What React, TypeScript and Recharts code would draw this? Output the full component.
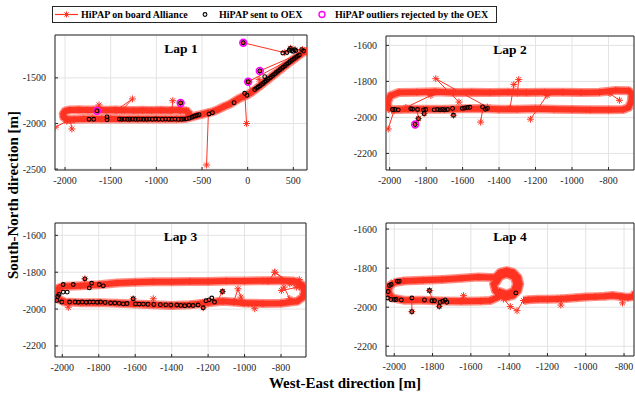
import React from "react";
import {
  ScatterChart,
  Scatter,
  XAxis,
  YAxis,
  CartesianGrid,
  ReferenceArea,
} from "recharts";

type Pt = [number, number];

const RED = "#ff3322";
const MAGENTA = "#ff00ff";
const INK = "#262626";
const SERIF = '"Liberation Serif", "Times New Roman", serif';

// tick labels
const lap1XTicks = [-2000, -1500, -1000, -500, 0, 500];
const lap1YTicks = [-2500, -2000, -1500];
const lapXTicks = [-2000, -1800, -1600, -1400, -1200, -1000, -800];
const lapYTicks = [-2200, -2000, -1800, -1600];

// ---- Lap 1 ----
const lap1Track: Pt[] = [
  [640, -1205], [600, -1225], [560, -1255], [520, -1285], [470, -1320], [420, -1360],
  [370, -1400], [320, -1440], [270, -1480], [220, -1520], [170, -1560], [120, -1600],
  [80, -1630], [40, -1660], [0, -1685], [-50, -1705], [-100, -1730], [-150, -1760],
  [-200, -1790], [-260, -1815], [-320, -1845], [-380, -1870], [-440, -1885], [-500, -1900],
  [-560, -1915], [-620, -1930], [-680, -1945], [-780, -1950], [-900, -1952], [-1000, -1950],
  [-1100, -1952], [-1200, -1950], [-1300, -1952], [-1400, -1950], [-1500, -1948], [-1600, -1950],
  [-1700, -1948], [-1800, -1950], [-1900, -1955], [-1975, -1955], [-2015, -1930], [-2020, -1895],
  [-2000, -1865], [-1950, -1852], [-1850, -1850], [-1750, -1852], [-1650, -1850], [-1550, -1855],
  [-1450, -1852], [-1350, -1855], [-1250, -1858], [-1150, -1855], [-1050, -1858], [-950, -1855],
  [-850, -1858], [-750, -1852], [-670, -1862], [-640, -1895], [-650, -1930],
];
const lap1Spikes: Pt[][] = [
  [[-1980, -1975], [-2105, -2040]],
  [[-1945, -1960], [-1925, -2060]],
  [[-1630, -1855], [-1628, -1797]],
  [[-1440, -1855], [-1262, -1731], [-1380, -1855]],
  [[-830, -1855], [-820, -1750]],
  [[-734, -1860], [-734, -1775]],
  [[-430, -1885], [-450, -2455]],
  [[-30, -1695], [-12, -2000]],
  [[-48, -1115], [406, -1224], [470, -1175], [520, -1190], [600, -1190], [640, -1205]],
  [[6, -1543], [640, -1205]],
  [[133, -1424], [620, -1212]],
  [[40, -1650], [6, -1543]],
  [[150, -1575], [125, -1516]],
];
const lap1Sent: Pt[] = [
  [-1737, -1954], [-1686, -1954], [-1540, -1928], [-1540, -1960],
  [-1405, -1952], [-1378, -1953], [-1350, -1952], [-1318, -1954], [-1290, -1953], [-1262, -1952],
  [-1230, -1954], [-1200, -1953], [-1168, -1952], [-1140, -1954], [-1108, -1953], [-1080, -1952],
  [-1045, -1953], [-1010, -1951], [-975, -1953], [-935, -1954], [-900, -1952], [-862, -1953],
  [-830, -1954], [-795, -1952], [-760, -1955], [-725, -1954], [-700, -1952], [-672, -1950],
  [-640, -1942], [-612, -1932], [-592, -1924], [-572, -1916], [-552, -1910], [-532, -1904],
  [-423, -1896], [-386, -1882], [-149, -1772], [-32, -1669], [-7, -1691],
  [78, -1628], [98, -1612], [115, -1600], [132, -1588], [150, -1574], [168, -1561],
  [186, -1546], [187, -1487], [204, -1532], [222, -1517], [240, -1503], [258, -1488],
  [276, -1473], [296, -1457], [316, -1441], [334, -1426], [352, -1411], [372, -1396],
  [390, -1381], [410, -1366], [428, -1351], [448, -1336], [466, -1321], [486, -1306],
  [506, -1291], [526, -1277], [546, -1263], [566, -1250],
  [385, -1228], [430, -1222], [455, -1196], [468, -1178], [482, -1202], [498, -1210],
  [512, -1192], [528, -1200], [592, -1190], [612, -1206],
  [-1650, -1862], [-734, -1775], [-48, -1115], [6, -1543], [133, -1424],
];
const lap1Rejected: Pt[] = [
  [-1650, -1862], [-734, -1775], [-48, -1115], [6, -1543], [133, -1424],
];

// ---- Lap 2 ----
const lap2Track: Pt[] = [
  [-1990, -1958], [-1900, -1955], [-1800, -1955], [-1700, -1955], [-1600, -1952], [-1500, -1950],
  [-1400, -1955], [-1300, -1955], [-1200, -1952], [-1100, -1955], [-1000, -1956], [-900, -1958],
  [-800, -1958], [-720, -1956], [-690, -1945], [-675, -1912], [-672, -1870], [-690, -1852],
  [-760, -1850], [-850, -1860], [-950, -1862], [-1050, -1860], [-1150, -1860], [-1250, -1862],
  [-1350, -1860], [-1450, -1862], [-1550, -1860], [-1650, -1862], [-1750, -1858], [-1850, -1860],
  [-1950, -1862], [-1995, -1880], [-2012, -1915], [-2008, -1945], [-1990, -1958],
];
const lap2Spikes: Pt[][] = [
  [[-1975, -1960], [-2008, -2064]],
  [[-1911, -1945], [-1774, -1878]],
  [[-1620, -1915], [-1747, -1785], [-1464, -1943]],
  [[-1490, -1955], [-1501, -2026]],
  [[-1340, -1950], [-1319, -1817], [-1292, -1790], [-1300, -1865]],
  [[-1137, -1878], [-1228, -2010]],
  [[-791, -1868], [-740, -1905]],
  [[-1850, -1955], [-1842, -2007], [-1860, -2039]],
  [[-1655, -1955], [-1650, -1988]],
  [[-1815, -1955], [-1811, -1979]],
];
const lap2Sent: Pt[] = [
  [-1984, -1956], [-1971, -1956], [-1953, -1958], [-1884, -1952], [-1874, -1954], [-1847, -1956],
  [-1842, -2007], [-1860, -2039], [-1811, -1979], [-1814, -1958], [-1802, -1956], [-1756, -1958],
  [-1738, -1956], [-1723, -1958], [-1710, -1956], [-1698, -1958], [-1683, -1956], [-1655, -1950],
  [-1650, -1988], [-1601, -1950], [-1589, -1948], [-1574, -1945], [-1560, -1944], [-1490, -1942],
  [-1474, -1955], [-1464, -1950],
];
const lap2Rejected: Pt[] = [[-1860, -2039]];

// ---- Lap 3 ----
const lap3Track: Pt[] = [
  [-2000, -1878], [-1900, -1874], [-1800, -1868], [-1700, -1858], [-1600, -1855], [-1500, -1852],
  [-1400, -1852], [-1300, -1850], [-1200, -1850], [-1100, -1848], [-1000, -1848], [-900, -1846],
  [-800, -1845], [-730, -1848], [-690, -1866], [-672, -1900], [-680, -1935], [-712, -1958],
  [-800, -1968], [-900, -1970], [-1000, -1967], [-1060, -1962], [-1120, -1958], [-1200, -1966],
  [-1300, -1976], [-1400, -1980], [-1500, -1977], [-1600, -1972], [-1700, -1968], [-1800, -1965],
  [-1900, -1965], [-1985, -1962], [-2025, -1945], [-2032, -1910], [-2018, -1885], [-2000, -1878],
];
const lap3Spikes: Pt[][] = [
  [[-871, -1849], [-834, -1800], [-752, -1863]],
  [[-834, -1800], [-716, -1881]],
  [[-1060, -1962], [-1036, -1890], [-1020, -1935], [-1008, -1968]],
  [[-980, -1970], [-944, -1998]],
  [[-1150, -1958], [-1121, -1905]],
  [[-784, -1881], [-752, -1944]],
  [[-798, -1899], [-700, -1880]],
  [[-700, -1840], [-668, -1872]],
  [[-1960, -1965], [-1967, -1990]],
  [[-1876, -1836], [-1880, -1870]],
  [[-1501, -1944], [-1500, -1975]],
  [[-1611, -1944], [-1610, -1972]],
  [[-1227, -1993], [-1230, -1966]],
];
const lap3Sent: Pt[] = [
  [-1995, -1867], [-1940, -1867], [-1876, -1836], [-1852, -1885], [-1839, -1860], [-1797, -1867],
  [-1775, -1874], [-2030, -1953], [-2025, -1932], [-2018, -1921], [-2003, -1962], [-1995, -1908],
  [-1973, -1908], [-1960, -1962], [-1930, -1962], [-1912, -1963], [-1890, -1962], [-1868, -1963],
  [-1850, -1962], [-1830, -1962], [-1808, -1963], [-1790, -1962], [-1765, -1964], [-1735, -1967],
  [-1712, -1967], [-1688, -1969], [-1665, -1972], [-1645, -1970], [-1611, -1944], [-1598, -1972],
  [-1578, -1973], [-1555, -1973], [-1530, -1974], [-1498, -1975], [-1462, -1976], [-1432, -1977],
  [-1405, -1978], [-1372, -1978], [-1350, -1980], [-1328, -1982], [-1305, -1979], [-1282, -1981],
  [-1255, -1978], [-1227, -1993], [-1212, -1955], [-1195, -1950], [-1180, -1940], [-1165, -1962],
  [-1121, -1905],
];
const lap3Rejected: Pt[] = [];

// ---- Lap 4 ----
const lap4Track: Pt[] = [
  [-2000, -1874], [-1950, -1866], [-1850, -1862], [-1750, -1858], [-1650, -1852], [-1560, -1846],
  [-1495, -1848], [-1472, -1847], [-1447, -1822], [-1413, -1813], [-1379, -1822], [-1354, -1847],
  [-1345, -1881], [-1354, -1915], [-1379, -1940], [-1413, -1949], [-1447, -1940], [-1472, -1915],
  [-1481, -1881], [-1465, -1870], [-1450, -1844], [-1413, -1829], [-1376, -1844], [-1361, -1881],
  [-1376, -1918], [-1413, -1933], [-1450, -1920], [-1462, -1950], [-1500, -1966], [-1550, -1968],
  [-1650, -1970], [-1750, -1968], [-1850, -1965], [-1950, -1964], [-2012, -1952], [-2032, -1920],
  [-2022, -1890], [-2000, -1874],
];
const lap4East: Pt[] = [
  [-1325, -1966], [-1300, -1962], [-1250, -1960], [-1200, -1960], [-1150, -1958], [-1100, -1955],
  [-1050, -1952], [-1000, -1948], [-950, -1946], [-900, -1944], [-860, -1940], [-820, -1945],
  [-780, -1950], [-752, -1945], [-740, -1925],
];
const lap4Spikes: Pt[][] = [
  [[-1908, -1964], [-1908, -2023]],
  [[-1800, -1967], [-1816, -1915]],
  [[-1770, -1970], [-1765, -1996]],
  [[-1645, -1966], [-1638, -1941]],
  [[-1430, -1958], [-1394, -1997], [-1359, -2018], [-1325, -1966]],
  [[-1352, -1900], [-1365, -1927]],
  [[-1130, -1957], [-1130, -1989]],
  [[-810, -1946], [-808, -1978]],
];
const lap4Sent: Pt[] = [
  [-2035, -1953], [-2032, -1920], [-2025, -1889], [-2016, -1884], [-2017, -1961], [-2000, -1961],
  [-1990, -1961], [-1983, -1867], [-1974, -1867], [-1963, -1963], [-1908, -1953], [-1908, -2023],
  [-1842, -1963], [-1816, -1915], [-1803, -1967], [-1790, -1967], [-1765, -1996], [-1760, -1975],
  [-1746, -1970], [-1734, -1963], [-1725, -1975], [-1365, -1927],
];
const lap4Rejected: Pt[] = [];

const toXY = (pts: Pt[]) => pts.map(([x, y]) => ({ x, y }));

function starPath(cx: number, cy: number, r: number) {
  const d = r * 0.7;
  return `M${cx - r},${cy}H${cx + r}M${cx},${cy - r}V${cy + r}M${cx - d},${cy - d}L${cx + d},${cy + d}M${cx - d},${cy + d}L${cx + d},${cy - d}`;
}

const renderStar = (props: any) => {
  if (props.cx == null || props.cy == null) return <g />;
  return <path d={starPath(props.cx, props.cy, 3.5)} stroke={RED} strokeWidth={1} fill="none" />;
};
const renderNothing = () => <g />;
const renderSent = (props: any) => (
  <circle cx={props.cx} cy={props.cy} r={1.9} stroke="#000" strokeWidth={1.1} fill="none" />
);
const renderRejected = (props: any) => (
  <circle cx={props.cx} cy={props.cy} r={3.4} stroke={MAGENTA} strokeWidth={1.6} fill="none" />
);

interface LapProps {
  title: string;
  left: number;
  top: number;
  width: number;
  height: number;
  xDomain: [number, number];
  yDomain: [number, number];
  xTicks: number[];
  yTicks: number[];
  tracks: Pt[][];
  spikes: Pt[][];
  sent: Pt[];
  rejected: Pt[];
}

const PAD_L = 48;
const PAD_T = 6;
const PAD_R = 6;
const PAD_B = 24;
const tickStyle = { fontFamily: SERIF, fontSize: 10, fill: INK };

function LapPanel(p: LapProps) {
  return (
    <div style={{ position: "absolute", left: p.left - PAD_L, top: p.top - PAD_T }}>
      <ScatterChart
        width={p.width + PAD_L + PAD_R}
        height={p.height + PAD_T + PAD_B}
        margin={{ top: PAD_T, right: PAD_R, bottom: 0, left: 0 }}
      >
        <CartesianGrid stroke="#e3e3e3" />
        <XAxis
          type="number"
          dataKey="x"
          domain={p.xDomain}
          ticks={p.xTicks}
          interval={0}
          allowDataOverflow
          height={PAD_B}
          axisLine={false}
          tickLine={{ stroke: INK }}
          tickSize={-3}
          tickMargin={10}
          tick={tickStyle}
        />
        <YAxis
          type="number"
          dataKey="y"
          domain={p.yDomain}
          ticks={p.yTicks}
          interval={0}
          allowDataOverflow
          width={PAD_L}
          axisLine={false}
          tickLine={{ stroke: INK }}
          tickSize={-3}
          tickMargin={12}
          tick={tickStyle}
        />
        {p.tracks.map((t, i) => (
          <Scatter
            key={`halo${i}`}
            data={toXY(t)}
            line={{ stroke: RED, strokeWidth: 9, strokeOpacity: 0.55, strokeLinejoin: "round" }}
            shape={renderNothing}
            isAnimationActive={false}
          />
        ))}
        {p.tracks.map((t, i) => (
          <Scatter
            key={`trk${i}`}
            data={toXY(t)}
            line={{ stroke: RED, strokeWidth: 6, strokeLinejoin: "round" }}
            shape={renderStar}
            isAnimationActive={false}
          />
        ))}
        {p.spikes.map((s, i) => (
          <Scatter
            key={`sp${i}`}
            data={toXY(s)}
            line={{ stroke: RED, strokeWidth: 1 }}
            shape={renderStar}
            isAnimationActive={false}
          />
        ))}
        <Scatter data={toXY(p.rejected)} shape={renderRejected} isAnimationActive={false} />
        <Scatter data={toXY(p.sent)} shape={renderSent} isAnimationActive={false} />
        <ReferenceArea
          x1={p.xDomain[0]}
          x2={p.xDomain[1]}
          y1={p.yDomain[0]}
          y2={p.yDomain[1]}
          fill="none"
          stroke={INK}
          strokeWidth={1}
          ifOverflow="visible"
        />
      </ScatterChart>
      <div
        style={{
          position: "absolute",
          left: PAD_L,
          top: PAD_T + 7,
          width: p.width,
          textAlign: "center",
          fontFamily: SERIF,
          fontWeight: "bold",
          fontSize: 13.5,
          lineHeight: "13px",
          color: "#000",
        }}
      >
        {p.title}
      </div>
    </div>
  );
}

const legendText: React.CSSProperties = {
  position: "absolute",
  top: 0,
  lineHeight: "15px",
  fontFamily: SERIF,
  fontWeight: "bold",
  fontSize: 10,
  color: "#000",
  whiteSpace: "nowrap",
};

function TopLegend() {
  return (
    <div
      style={{
        position: "absolute",
        left: 52,
        top: 6,
        width: 445,
        height: 17,
        boxSizing: "border-box",
        border: `1px solid ${INK}`,
        background: "#fff",
      }}
    >
      <svg width={443} height={15} style={{ position: "absolute", left: 0, top: 0 }}>
        <line x1={2} y1={7.5} x2={25} y2={7.5} stroke={RED} strokeWidth={1.2} />
        <path d={starPath(13.5, 7.5, 3)} stroke={RED} strokeWidth={1} fill="none" />
        <circle cx={152} cy={7.5} r={1.9} stroke="#000" strokeWidth={1.1} fill="none" />
        <circle cx={269} cy={7.5} r={3} stroke={MAGENTA} strokeWidth={1.4} fill="none" />
      </svg>
      <span style={{ ...legendText, left: 28 }}>HiPAP on board Alliance</span>
      <span style={{ ...legendText, left: 166 }}>HiPAP sent to OEX</span>
      <span style={{ ...legendText, left: 282 }}>HiPAP outliers rejected by the OEX</span>
    </div>
  );
}

export default function App() {
  return (
    <div
      style={{
        position: "absolute",
        left: 0,
        top: 0,
        width: 635,
        height: 393,
        background: "#fff",
        overflow: "hidden",
      }}
    >
      <LapPanel
        title="Lap 1"
        left={55}
        top={35}
        width={252}
        height={135}
        xDomain={[-2110, 650]}
        yDomain={[-2510, -1030]}
        xTicks={lap1XTicks}
        yTicks={lap1YTicks}
        tracks={[lap1Track]}
        spikes={lap1Spikes}
        sent={lap1Sent}
        rejected={lap1Rejected}
      />
      <LapPanel
        title="Lap 2"
        left={386}
        top={36}
        width={248}
        height={134}
        xDomain={[-2020, -660]}
        yDomain={[-2292, -1548]}
        xTicks={lapXTicks}
        yTicks={lapYTicks}
        tracks={[lap2Track]}
        spikes={lap2Spikes}
        sent={lap2Sent}
        rejected={lap2Rejected}
      />
      <LapPanel
        title="Lap 3"
        left={55}
        top={223}
        width={251}
        height={134}
        xDomain={[-2040, -663]}
        yDomain={[-2260, -1533]}
        xTicks={lapXTicks}
        yTicks={lapYTicks}
        tracks={[lap3Track]}
        spikes={lap3Spikes}
        sent={lap3Sent}
        rejected={lap3Rejected}
      />
      <LapPanel
        title="Lap 4"
        left={386}
        top={223}
        width={248}
        height={133}
        xDomain={[-2043, -748]}
        yDomain={[-2250, -1569]}
        xTicks={lapXTicks}
        yTicks={lapYTicks}
        tracks={[lap4Track, lap4East]}
        spikes={lap4Spikes}
        sent={lap4Sent}
        rejected={lap4Rejected}
      />
      <TopLegend />
      <div
        style={{
          position: "absolute",
          left: 195,
          top: 375,
          width: 300,
          textAlign: "center",
          fontFamily: SERIF,
          fontWeight: "bold",
          fontSize: 15,
          lineHeight: "16px",
          color: "#000",
        }}
      >
        West-East direction [m]
      </div>
      <div
        style={{
          position: "absolute",
          left: 13 - 130,
          top: 195 - 8,
          width: 260,
          height: 16,
          transform: "rotate(-90deg)",
          textAlign: "center",
          fontFamily: SERIF,
          fontWeight: "bold",
          fontSize: 15,
          lineHeight: "16px",
          color: "#000",
          whiteSpace: "nowrap",
        }}
      >
        South-North direction [m]
      </div>
    </div>
  );
}
